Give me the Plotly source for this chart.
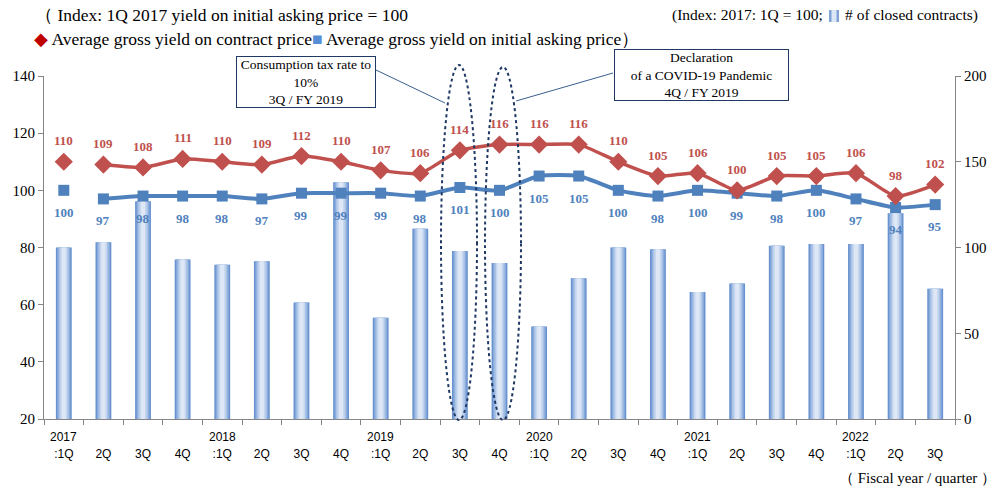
import plotly.graph_objects as go

# ---------------- data ----------------
quarters = [
    "2017:1Q", "2017:2Q", "2017:3Q", "2017:4Q",
    "2018:1Q", "2018:2Q", "2018:3Q", "2018:4Q",
    "2019:1Q", "2019:2Q", "2019:3Q", "2019:4Q",
    "2020:1Q", "2020:2Q", "2020:3Q", "2020:4Q",
    "2021:1Q", "2021:2Q", "2021:3Q", "2021:4Q",
    "2022:1Q", "2022:2Q", "2022:3Q",
]
tick_labels = [
    ":1Q", "2Q", "3Q", "4Q",
    ":1Q", "2Q", "3Q", "4Q",
    ":1Q", "2Q", "3Q", "4Q",
    ":1Q", "2Q", "3Q", "4Q",
    ":1Q", "2Q", "3Q", "4Q",
    ":1Q", "2Q", "3Q",
]
year_labels = ["2017", "2018", "2019", "2020", "2021", "2022"]
year_start_quarters = ["2017:1Q", "2018:1Q", "2019:1Q", "2020:1Q", "2021:1Q", "2022:1Q"]

contract_yield = [110, 109, 108, 111, 110, 109, 112, 110, 107, 106, 114, 116,
                  116, 116, 110, 105, 106, 100, 105, 105, 106, 98, 102]
asking_yield = [100, 97, 98, 98, 98, 97, 99, 99, 99, 98, 101, 100,
                105, 105, 100, 98, 100, 99, 98, 100, 97, 94, 95]
closed_contracts = [100, 103, 127, 93, 90, 92, 68, 138, 59, 111, 98, 91,
                    54, 82, 100, 99, 74, 79, 101, 102, 102, 120, 76]

left_ticks = [20, 40, 60, 80, 100, 120, 140]
right_ticks = [0, 50, 100, 150, 200]

# ---------------- style ----------------
RED = "#C0504D"
BLUE = "#4F81BD"
SERIF = "Liberation Serif"
SANS = "Liberation Sans"
AXIS = "#868686"

W, H = 1002, 498
L, R, T, B = 44, 47, 76, 79
PW, PH = W - L - R, H - T - B


def px(x):
    return (x - L) / PW


def py(y):
    return (H - B - y) / PH


fig = go.Figure()

# gradient-looking bars (overlaid layers)
bar_layers = [(0.40, "#6792CF"), (0.33, "#88AADB"), (0.26, "#A9C2E6"),
              (0.18, "#C7D7EF"), (0.10, "#DDE7F5")]
for w, c in bar_layers:
    fig.add_trace(go.Bar(x=quarters, y=closed_contracts, width=w,
                         marker=dict(color=c, line=dict(width=0)),
                         yaxis="y", showlegend=False, hoverinfo="skip"))

# lines (first point stands alone)
fig.add_trace(go.Scatter(x=quarters[1:], y=asking_yield[1:], yaxis="y2",
                         mode="lines+markers", line=dict(color=BLUE, width=4, shape="spline", smoothing=0.6),
                         marker=dict(symbol="square", size=11, color=BLUE), showlegend=False))
fig.add_trace(go.Scatter(x=quarters[:1], y=asking_yield[:1], yaxis="y2", mode="markers",
                         marker=dict(symbol="square", size=11, color=BLUE), showlegend=False))
fig.add_trace(go.Scatter(x=quarters[1:], y=contract_yield[1:], yaxis="y2",
                         mode="lines+markers", line=dict(color=RED, width=3.5, shape="spline", smoothing=0.6),
                         marker=dict(symbol="diamond", size=14, color=RED), showlegend=False))
fig.add_trace(go.Scatter(x=quarters[:1], y=contract_yield[:1], yaxis="y2", mode="markers",
                         marker=dict(symbol="diamond", size=14, color=RED), showlegend=False))

annotations = []
for q, v in zip(quarters, contract_yield):
    annotations.append(dict(x=q, y=v, xref="x", yref="y2", text=str(v), showarrow=False,
                            yshift=21, font=dict(family=SERIF, size=13, color=RED, weight="bold")))
for q, v in zip(quarters, asking_yield):
    annotations.append(dict(x=q, y=v, xref="x", yref="y2", text=str(v), showarrow=False,
                            yshift=-22, font=dict(family=SERIF, size=13, color=BLUE, weight="bold")))
for q, yr in zip(year_start_quarters, year_labels):
    annotations.append(dict(x=q, y=py(437), xref="x", yref="paper", text=yr, showarrow=False,
                            yanchor="middle", font=dict(family=SANS, size=12, color="#000")))

# header texts
annotations += [
    dict(x=px(33), y=py(15), xref="paper", yref="paper", xanchor="left", yanchor="middle",
         showarrow=False, text="（ Index: 1Q 2017 yield on initial asking price = 100",
         font=dict(family=SERIF, size=17.5, color="#000")),
    dict(x=px(32), y=py(39), xref="paper", yref="paper", xanchor="left", yanchor="middle",
         showarrow=False,
         text="<span style='color:#C00000'>◆</span> Average gross yield on contract price"
              "<span style='color:#558ED5'>■</span> Average gross yield on initial asking price）",
         font=dict(family=SERIF, size=17.5, color="#000")),
    dict(x=px(825), y=py(15), xref="paper", yref="paper", xanchor="right", yanchor="middle",
         showarrow=False, text="(Index: 2017: 1Q = 100;",
         font=dict(family=SERIF, size=15.5, color="#000")),
    dict(x=px(843), y=py(15), xref="paper", yref="paper", xanchor="left", yanchor="middle",
         showarrow=False, text="# of closed contracts)",
         font=dict(family=SERIF, size=15.5, color="#000")),
    dict(x=px(998), y=py(478), xref="paper", yref="paper", xanchor="right", yanchor="middle",
         showarrow=False, text="（ Fiscal year / quarter ）",
         font=dict(family=SERIF, size=15, color="#000")),
    dict(x=px(305.5), y=py(81.5), xref="paper", yref="paper", xanchor="center", yanchor="middle",
         showarrow=False, text="Consumption tax rate to<br>10%<br>3Q / FY 2019",
         align="center", bgcolor="white", bordercolor="#1F3864", borderwidth=1, borderpad=0,
         width=138, font=dict(family=SERIF, size=13.5, color="#000")),
    dict(x=px(701), y=py(75.5), xref="paper", yref="paper", xanchor="center", yanchor="middle",
         showarrow=False, text="Declaration<br>of a COVID-19 Pandemic<br>4Q / FY 2019",
         align="center", bgcolor="white", bordercolor="#1F3864", borderwidth=1, borderpad=0,
         width=173, font=dict(family=SERIF, size=13.5, color="#000")),
]

shapes = [
    # icon in top-right legend text
    dict(type="rect", xref="paper", yref="paper", x0=px(829), x1=px(839), y0=py(22), y1=py(10),
         fillcolor="#7FA3D6", line=dict(width=0)),
    dict(type="rect", xref="paper", yref="paper", x0=px(831.5), x1=px(836.5), y0=py(22), y1=py(10),
         fillcolor="#DCE6F4", line=dict(width=0)),
    # dotted ellipses
    dict(type="circle", xref="paper", yref="paper", x0=px(441), x1=px(477), y0=py(420), y1=py(65),
         line=dict(color="#1F3864", width=2, dash="dot")),
    dict(type="circle", xref="paper", yref="paper", x0=px(485), x1=px(521), y0=py(420), y1=py(67),
         line=dict(color="#1F3864", width=2, dash="dot")),
    # connector lines
    dict(type="line", xref="paper", yref="paper", x0=px(376), y0=py(70), x1=px(445), y1=py(103),
         line=dict(color="#3A5F8F", width=1)),
    dict(type="line", xref="paper", yref="paper", x0=px(516), y0=py(101), x1=px(613), y1=py(73),
         line=dict(color="#3A5F8F", width=1)),
]

fig.update_layout(
    width=W, height=H,
    margin=dict(l=L, r=R, t=T, b=B, pad=0),
    paper_bgcolor="white", plot_bgcolor="white",
    barmode="overlay", showlegend=False,
    xaxis=dict(type="category", categoryorder="array", categoryarray=quarters,
               tickmode="array", tickvals=quarters, ticktext=tick_labels,
               tickson="boundaries", ticks="outside", ticklen=5, tickcolor=AXIS,
               ticklabelstandoff=24,
               showline=True, linecolor=AXIS, linewidth=1, showgrid=False,
               range=[-0.5, len(quarters) - 0.5],
               tickfont=dict(family=SANS, size=12, color="#000")),
    yaxis=dict(side="right", range=[0, 200], tickvals=right_ticks,
               ticks="outside", ticklen=5, tickcolor=AXIS, showline=True, linecolor=AXIS,
               showgrid=False, zeroline=False,
               tickfont=dict(family=SERIF, size=15, color="#000")),
    yaxis2=dict(side="left", overlaying="y", anchor="x", range=[20, 140], tickvals=left_ticks,
                ticks="outside", ticklen=5, tickcolor=AXIS, showline=True, linecolor=AXIS,
                showgrid=False, zeroline=False,
                tickfont=dict(family=SERIF, size=15, color="#000")),
    annotations=annotations, shapes=shapes,
)

fig.write_html("out.html", config={"displayModeBar": False},
               post_script="document.body.style.margin='0';")
